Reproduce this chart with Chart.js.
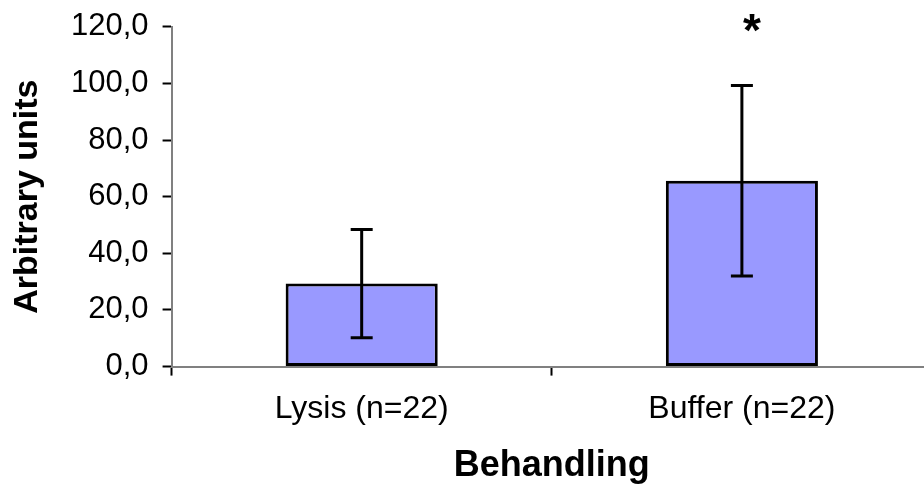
<!DOCTYPE html>
<html>
<head>
<meta charset="utf-8">
<script src="https://cdn.jsdelivr.net/npm/chart.js@4.4.1/dist/chart.umd.min.js"></script>
<style>
    html, body { margin: 0; padding: 0; background: #fff; overflow: hidden; }
    #wrap { width: 932px; height: 484px; }
</style>
</head>
<body>
<div id="wrap"><canvas id="chart"></canvas></div>
<script>
// ค่าเฉลี่ยและส่วนเบี่ยงเบน
const groups = ['Lysis (n=22)', 'Buffer (n=22)'];
const means = [29.3, 65.6];
const sd = [19.1, 33.6];
const sigMarks = ['', '*'];
const yTicks = [0, 20, 40, 60, 80, 100, 120];

const FONT = '"Liberation Sans", Arial, sans-serif';

// เส้น error bar และเครื่องหมาย *
const errorBars = {
    id: 'errorBars',
    afterDatasetsDraw(chart) {
        const { ctx, scales: { y } } = chart;
        const bars = chart.getDatasetMeta(0).data;
        ctx.save();
        ctx.strokeStyle = '#000';
        ctx.lineWidth = 3;
        bars.forEach((bar, i) => {
            const top = y.getPixelForValue(means[i] + sd[i]);
            const bot = y.getPixelForValue(means[i] - sd[i]);
            ctx.beginPath();
            ctx.moveTo(bar.x, top);
            ctx.lineTo(bar.x, bot);
            ctx.moveTo(bar.x - 11, top);
            ctx.lineTo(bar.x + 11, top);
            ctx.moveTo(bar.x - 11, bot);
            ctx.lineTo(bar.x + 11, bot);
            ctx.stroke();
            if (sigMarks[i]) {
                ctx.fillStyle = '#000';
                ctx.font = 'bold 46px ' + FONT;
                ctx.textAlign = 'center';
                ctx.textBaseline = 'alphabetic';
                ctx.fillText(sigMarks[i], bar.x + 10, y.getPixelForValue(120) + 19);
            }
        });
        ctx.restore();
    }
};

const ctx = document.getElementById('chart').getContext('2d');
new Chart(ctx, {
    type: 'bar',
    data: {
        labels: groups,
        datasets: [{
            data: means,
            backgroundColor: '#9999ff',
            borderColor: '#000',
            borderWidth: 3,
            borderSkipped: false,
            barPercentage: 0.4,
            categoryPercentage: 1
        }]
    },
    options: {
        responsive: true,
        maintainAspectRatio: false,
        animation: false,
        layout: { padding: { top: 0, right: 0, left: 11, bottom: 0 } },
        plugins: { legend: { display: false }, tooltip: { enabled: false } },
        scales: {
            x: {
                offset: true,
                grid: { offset: true, drawOnChartArea: false, tickLength: 9, tickColor: '#000', tickWidth: 2 },
                border: { color: '#808080', width: 2 },
                ticks: {
                    color: '#000', padding: 14,
                    font: { family: FONT, size: 32 }
                },
                title: {
                    display: true, text: 'Behandling', color: '#000',
                    padding: { top: 6, bottom: 0 },
                    font: { family: FONT, size: 36, weight: 'bold', lineHeight: 1 }
                }
            },
            y: {
                min: 0, max: 120,
                afterBuildTicks: (axis) => { axis.ticks = yTicks.map(v => ({ value: v })); },
                grid: { drawOnChartArea: false, tickLength: 9, tickColor: '#000', tickWidth: 2 },
                border: { color: '#808080', width: 2 },
                ticks: {
                    color: '#000', padding: 14,
                    callback: (v) => v.toFixed(1).replace('.', ','),
                    font: { family: FONT, size: 31, lineHeight: 0.82 }
                },
                title: {
                    display: true, text: 'Arbitrary units', color: '#000',
                    padding: { top: 0, bottom: 12 },
                    font: { family: FONT, size: 34, weight: 'bold', lineHeight: 1 }
                }
            }
        }
    },
    plugins: [errorBars]
});
</script>
</body>
</html>
